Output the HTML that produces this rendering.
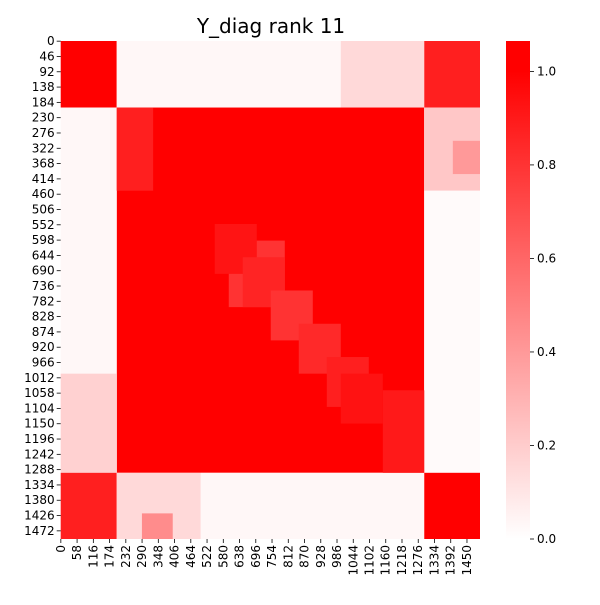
<!DOCTYPE html>
<html><head><meta charset="utf-8"><style>
body{margin:0;background:#fff;font-family:"Liberation Sans","DejaVu Sans",sans-serif}
svg text{font-family:"DejaVu Sans","Liberation Sans",sans-serif}
</style></head><body>
<svg id="chart" width="600" height="600" xmlns="http://www.w3.org/2000/svg">
<defs><linearGradient id="cbg" x1="0" y1="1" x2="0" y2="0">
<stop offset="0" stop-color="#fff"/><stop offset="0.94" stop-color="#f00"/><stop offset="1" stop-color="#f00"/></linearGradient></defs>
<text x="271" y="33" font-size="20" text-anchor="middle">Y_diag rank 11</text>
<g id="cells"></g>
<g id="yticks"></g>
<g id="xticks"></g>
<rect x="506" y="41" width="24" height="498" fill="url(#cbg)"/>
<g id="cbticks"></g>
</svg>
<script>
// matrix size and block patches: [rowStart,rowEnd,colStart,colEnd,value]
const N = 1497;
const patchRowStart = [0,0,0,0,0,200,200,200,300,200,450,1000,1298,1298,1298,1420,1298,200,1050,600,550,650,750,850,950,1000];
const patchRowEnd   = [1497,200,200,200,200,1298,1298,450,400,1298,1298,1298,1497,1497,1497,1497,1497,450,1298,800,700,800,900,1000,1100,1150];
const patchColStart = [0,0,200,1000,1298,200,1298,1298,1400,0,1298,0,0,200,500,290,1298,200,1150,600,550,650,750,850,950,1000];
const patchColEnd   = [1497,200,1000,1298,1497,1298,1497,1497,1497,200,1497,200,200,500,1298,400,1497,330,1298,800,700,800,900,1000,1100,1150];
const patchValue    = [0.01,1.0,0.03,0.15,0.88,1.0,0.02,0.22,0.4,0.03,0.02,0.18,0.88,0.15,0.03,0.45,1.0,0.88,0.9,0.8,0.92,0.86,0.8,0.84,0.88,0.93];
const yTickVals = Array.from({length:33},(_, i)=>i*46);
const xTickVals = Array.from({length:26},(_, i)=>i*58);
const cbTickVals = [0.0,0.2,0.4,0.6,0.8,1.0];

const X0=60.7,X1=480,Y0=41,Y1=539;
const xs=v=>X0+(X1-X0)*v/N, ys=v=>Y0+(Y1-Y0)*v/N;
const cb=v=>539-v*(498/1.065);
const color=v=>{const t=Math.max(0,Math.min(1,v/1.0));const g=Math.round(255*(1-t));return `rgb(255,${g},${g})`;};
const NS="http://www.w3.org/2000/svg";
function mk(tag,attrs,parent){const e=document.createElementNS(NS,tag);for(const k in attrs)e.setAttribute(k,attrs[k]);parent.appendChild(e);return e;}
const cells=document.getElementById('cells');
for(let i=0;i<patchValue.length;i++){
  const r=mk('rect',{x:xs(patchColStart[i]),y:ys(patchRowStart[i]),width:xs(patchColEnd[i])-xs(patchColStart[i]),height:ys(patchRowEnd[i])-ys(patchRowStart[i]),fill:color(patchValue[i])},cells);
  
  
}
const yg=document.getElementById('yticks');
yTickVals.forEach(v=>{const y=ys(v+0.5);
  mk('line',{x1:X0-4,x2:X0,y1:y,y2:y,stroke:'#000','stroke-width':0.8},yg);
  const t=mk('text',{x:X0-6,y:y+4,'font-size':12,'text-anchor':'end'},yg);t.textContent=v;
  
  });
const xg=document.getElementById('xticks');
xTickVals.forEach(v=>{const x=xs(v+0.5);
  mk('line',{x1:x,x2:x,y1:Y1,y2:Y1+4,stroke:'#000','stroke-width':0.8},xg);
  const t=mk('text',{x:x+4,y:Y1+6,'font-size':12,'text-anchor':'end',transform:`rotate(-90 ${x+4} ${Y1+6})`},xg);t.textContent=v;
  
  });
const cg=document.getElementById('cbticks');
cbTickVals.forEach(v=>{const y=cb(v);
  mk('line',{x1:530,x2:534,y1:y,y2:y,stroke:'#000','stroke-width':0.8},cg);
  const t=mk('text',{x:537,y:y+4,'font-size':12},cg);t.textContent=v.toFixed(1);
  
  });
</script>
</body></html>
